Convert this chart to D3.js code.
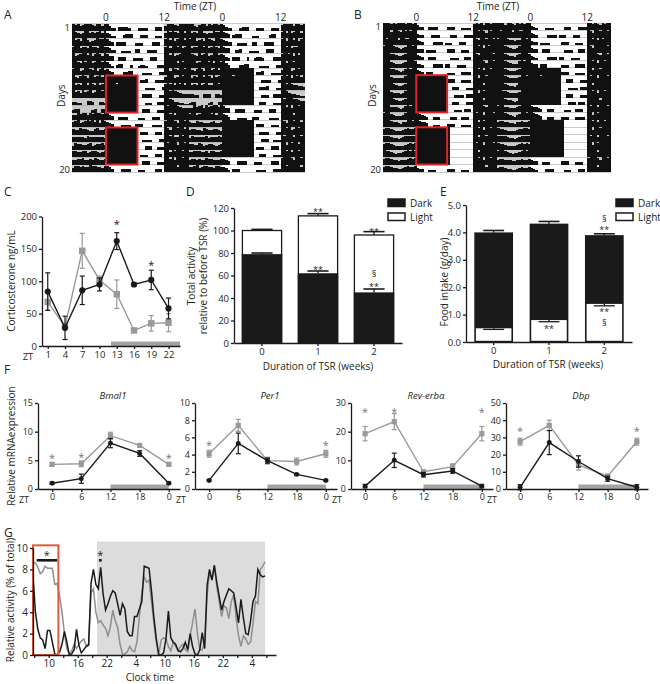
<!DOCTYPE html>
<html>
<head>
<meta charset="utf-8">
<script src="https://cdn.jsdelivr.net/npm/d3@7"></script>
<style>
  body { margin: 0; background: #fff; }
  svg { font-family: "Open Sans", "Noto Sans", sans-serif; }
</style>
</head>
<body>
<svg width="660" height="684"></svg>
<script>
// ---- actograms: one string per day, half-hour bins from ZT17 (prev. day) to ZT17, activity 0-9
// segments: ZT-7..0 | ZT0..6 | ZT6..12 | ZT12..17
const actoA = [
  "97867989769968 864405555300 034440005550 6899769989",
  "98657996878979 753300045550 004440003330 7989869979",
  "97869975679889 865045550000 333000045500 8979689979",
  "89967869876998 764400333300 550004444000 8969979689",
  "96789979689869 866004450003 333000555000 9979678999",
  "98769789679978 753045500040 034430000444 8998969799",
  "89967998796897 864000044550 000333300044 9969879989",
  "97689869978979 999999999999 904450003333 7999679899",
  "96879979869789 999989999999 900033330004 8989698979",
  "97869789679989 999999999999 900444500033 9989876554",
  "44330055400443 999999999999 900033300444 9986443322",
  "34400000340044 999999999999 900444000333 9899987655",
  "66978969789979 865004444000 033300044400 9979699899",
  "78967898979698 764000333300 444000033330 8999869989",
  "76687765578667 999999999999 904440003330 9869989979",
  "67766587667765 999999999999 900333300044 9989679899",
  "58776678567786 999999999999 900044400333 9899969989",
  "77668756776567 999999999999 903330004440 9969899799",
  "66778667587667 999999999999 900444000333 9979699899",
  "57767668776657 764000444400 033300004440 8999869989",
  "66785677665776 653044400000 003333000444 8979989969"
];
const actoB = [
  "99989899989989 644004444000 044400033330 8989699899",
  "99979987989899 543000333300 004440004444 9989869899",
  "98999979988999 654000044440 333000444000 9869989989",
  "89998765679989 544033330000 044400033300 9989698999",
  "99987655689999 654004440000 003333004440 9869999989",
  "99976554679998 543000044440 440003333000 9999869989",
  "99987654589899 654044400000 033300044440 9989699899",
  "99976555689999 999999999999 944400033330 9969989999",
  "99987655679989 999989999999 900444000333 9899699989",
  "99976554689999 999999999999 900033330444 9969899999",
  "99887655679999 999999999999 900444000333 9989699899",
  "99976654589899 999999999999 900033304440 9999869999",
  "89976555689999 876540044400 003330044400 9899699989",
  "99987654679989 987650033300 044400033330 9969899999",
  "78876554678778 999999999999 990000000000 9989699899",
  "87765545677887 999999999999 990000000000 9969989999",
  "78876554567878 999999999999 990000000000 9899699989",
  "87765455678787 999999999999 990000000000 9969899999",
  "78876545567878 999999999999 990000000000 9989699899",
  "67765544567667 544003330000 044400033300 8999869989",
  "56654433456556 543000444400 003330004440 8999689999"
];
const tsrBlocks = [[8, 12], [15, 19]];   // day rows inside red boxes
const tsrWindow = [0, 6.5];             // ZT
const darkSpans = [[-7, 0], [12, 24], [36, 41]];
const actoTicks = [0, 12, 24, 36];
const actoTickLabels = ["0", "12", "0", "12"];

// ---- C: corticosterone
const cortZT = [1, 4, 7, 10, 13, 16, 19, 22];
const cortCtrl = [84, 28, 86, 95, 162, 95, 102, 58];
const cortCtrlErr = [29, 18, 22, 10, 13, 3, 15, 16];
const cortTSR = [68, 30, 147, 102, 80, 24, 35, 36];
const cortTSRErr = [13, 5, 27, 6, 22, 2, 12, 14];
const cortStars = [[13, 192], [19, 128]];

// ---- D: total activity
const weeks = ["0", "1", "2"];
const actDark = [79, 62, 45];
const actDarkErr = [1, 2, 3];
const actTotal = [100, 113, 96];
const actTotalErr = [1, 2, 3];

// ---- E: food intake
const foodLight = [0.5, 0.8, 1.39];
const foodLightErr = [0.04, 0.06, 0.07];
const foodTotal = [4.0, 4.32, 3.9];
const foodTotalErr = [0.07, 0.08, 0.05];

// ---- F: clock genes (ZT 0, 6, 12, 18, 0)
const geneZT = [0, 6, 12, 18, 24];
const geneZTLabels = ["0", "6", "12", "18", "0"];
const genes = [
  { name: "Bmal1", max: 15, ticks: [0, 5, 10, 15],
    ctrl: [1.0, 1.8, 8.0, 6.2, 1.0], ctrlErr: [0.2, 0.8, 0.8, 0.5, 0.2],
    tsr: [4.3, 4.4, 9.3, 7.6, 4.3], tsrErr: [0.3, 0.5, 0.6, 0.3, 0.3],
    stars: [[0, 5.8], [6, 5.9], [24, 5.8]] },
  { name: "Per1", max: 10, ticks: [0, 2, 4, 6, 8, 10],
    ctrl: [1.0, 5.3, 3.3, 1.7, 1.0], ctrlErr: [0.1, 1.2, 0.3, 0.1, 0.1],
    tsr: [4.1, 7.4, 3.3, 3.2, 4.1], tsrErr: [0.4, 0.7, 0.4, 0.4, 0.4],
    stars: [[0, 5.4], [24, 5.4]] },
  { name: "Rev-erbα", max: 30, ticks: [0, 10, 20, 30],
    ctrl: [1.0, 10.0, 5.0, 6.3, 1.0], ctrlErr: [0.6, 2.5, 0.8, 0.8, 0.6],
    tsr: [19.3, 23.5, 6.0, 7.8, 19.3], tsrErr: [2.5, 2.8, 0.5, 1.0, 2.5],
    stars: [[0, 27.5], [6, 27.5], [24, 27.5]] },
  { name: "Dbp", max: 50, ticks: [0, 10, 20, 30, 40, 50],
    ctrl: [1.0, 27.0, 16.0, 6.0, 1.0], ctrlErr: [1.5, 7.0, 3.3, 1.5, 1.5],
    tsr: [27.5, 37.0, 14.0, 7.5, 27.5], tsrErr: [2.0, 3.0, 3.0, 1.0, 2.0],
    stars: [[0, 35], [24, 35]] }
];

// ---- G: relative activity, half-hour points from 6:45 clock time
const gStart = 6.75;
const actCtrl = [7.4, 4.0, 2.4, 1.6, 1.4, 0.6, 2.3, 2.3, 1.2, 0.1, 0, 0.3, 1.0, 2.2, 1.2, 0, 0.1, 0.5, 2.4, 0.9,
  0.2, 0.5, 0.8, 0.9, 6.7, 8.0, 6.6, 6.2, 8.2, 5.7, 4.2, 4.8, 5.5, 6.0, 5.8, 4.8, 3.7, 4.8, 4.3, 2.2,
  1.8, 1.8, 3.6, 3.6, 4.3, 5.0, 8.3, 8.2, 8.1, 6.0, 3.5, 1.5, 0, 0, 0.2, 1.5, 4.1, 1.6, 1.2, 1.0,
  0.4, 0.3, 0.6, 1.2, 0.5, 2.0, 0.8, 0.1, 0, 0.5, 2.1, 0.6, 6.5, 8.0, 7.0, 8.4, 6.8, 5.5, 4.2, 5.0,
  5.6, 6.2, 6.0, 5.8, 4.5, 3.0, 5.2, 3.5, 2.0, 1.9, 3.2, 5.0, 5.5, 8.0, 7.5, 7.3, 7.4];
const actTSR = [8.7, 8.6, 8.2, 7.6, 7.8, 8.3, 8.1, 8.1, 8.1, 6.6, 6.7, 5.5, 4.0, 2.0, 0.6, 0.1, 0.4, 1.0, 0.6, 1.0,
  1.3, 1.5, 0.9, 1.0, 5.8, 6.2, 4.0, 3.0, 3.2, 2.8, 2.5, 1.8, 2.6, 4.2, 3.2, 2.6, 1.0, 0.1, 0.1, 0.3,
  0.8, 0.4, 0.3, 1.2, 3.6, 5.8, 7.3, 6.8, 7.0, 5.0, 3.0, 1.2, 0.1, 1.4, 1.6, 1.5, 0.8, 0.4, 1.2, 0.8,
  0.4, 0.8, 1.0, 0.5, 0.3, 1.8, 3.0, 4.3, 2.0, 0.5, 0.5, 1.2, 5.5, 7.8, 7.0, 8.3, 6.4, 5.0, 3.6, 4.6,
  4.4, 3.4, 5.0, 5.6, 3.5, 1.8, 0.8, 1.8, 1.5, 1.0, 1.2, 3.0, 5.0, 4.8, 8.0, 8.3, 8.7];
const gShade = [20, 54.75];
const gBox = [6.75, 12, 10.25];
const gSigBars = [[7.5, 11.75, 8.85], [20.4, 20.95, 8.85]];

const svg = d3.select("svg");
const INK = "#231f20", BLK = "#1a1a1a", GRY = "#999999";

function text(x, y, s, size, anchor, g) {
  return (g || svg).append("text").attr("x", x).attr("y", y)
    .attr("font-size", size || 10).attr("text-anchor", anchor || "middle")
    .attr("fill", INK).text(s);
}
function vtext(x, y, s, size) {
  return svg.append("text").attr("transform", `translate(${x},${y}) rotate(-90)`)
    .attr("font-size", size || 10).attr("text-anchor", "middle").attr("fill", INK).text(s);
}
function styleAxis(g, size) {
  g.attr("font-family", null).attr("font-size", size || 9.5);
  g.selectAll("path,line").attr("stroke", BLK).attr("stroke-width", 1.3);
  g.selectAll("text").attr("fill", INK);
}

// ================= A / B actograms
function actogram(days, left, right, top, bottom, letter, letterX, titleX) {
  const x = d3.scaleLinear().domain([-7, 41]).range([left, right]);
  const row = d3.scaleBand().domain(d3.range(20)).range([top, bottom]);
  const h = row.bandwidth();
  const bins = days.map(s => s.replace(/ /g, "").padEnd(48, "0").slice(0, 48).split("").map(Number));
  const g = svg.append("g").attr("shape-rendering", "crispEdges");

  d3.range(20).forEach(r => {
    darkSpans.forEach(s => g.append("rect")
      .attr("x", x(s[0])).attr("width", x(s[1]) - x(s[0]))
      .attr("y", row(r)).attr("height", h).attr("fill", "#c9c9c9"));
  });
  d3.range(21).forEach(r => g.append("line")
    .attr("x1", left).attr("x2", right)
    .attr("y1", top + r * h).attr("y2", top + r * h)
    .attr("stroke", "#a8a8a8").attr("stroke-width", 0.6));

  d3.range(20).forEach(r => {
    const vals = bins[r].concat(bins[r + 1]);
    vals.forEach((v, i) => {
      if (!v) return;
      const z = -7 + i * 0.5;
      g.append("rect")
        .attr("x", x(z)).attr("width", x(z + 0.5) - x(z) + 0.3)
        .attr("y", row(r) + h - v / 9 * h).attr("height", v / 9 * h)
        .attr("fill", "#111");
    });
  });

  tsrBlocks.forEach(b => svg.append("rect")
    .attr("x", x(tsrWindow[0])).attr("width", x(tsrWindow[1]) - x(tsrWindow[0]))
    .attr("y", row(b[0] - 1)).attr("height", row(b[1] - 1) + h - row(b[0] - 1))
    .attr("fill", "none").attr("stroke", "#e1242a").attr("stroke-width", 2));

  actoTicks.forEach((t, i) => text(x(t), 21, actoTickLabels[i], 10));
  text(titleX, 10, "Time (ZT)", 10);
  text(left - 2, top + 7, "1", 9.5, "end");
  text(left - 2, bottom + 1, "20", 9.5, "end");
  vtext(left - 7, (top + bottom) / 2 - 2, "Days", 10);
  text(letterX, 19, letter, 12, "start");
}
actogram(actoA, 72, 305, 23.5, 172, "A", 4, 195);
actogram(actoB, 383, 611, 23, 172, "B", 354, 498);

// ================= C and F line panels
function linePanel(p) {
  const x = d3.scaleLinear().domain(p.xDom).range([p.x0, p.x1]);
  const y = d3.scaleLinear().domain([0, p.yMax]).range([p.yb, p.yt]);
  const g = svg.append("g");
  g.append("rect").attr("x", x(12)).attr("width", x(24) - x(12))
    .attr("y", p.yb - 4.5).attr("height", 4.5).attr("fill", "#a3a3a3");
  const ya = g.append("g").attr("transform", `translate(${p.x0},0)`)
    .call(d3.axisLeft(y).tickValues(p.yTicks).tickSize(3).tickSizeOuter(0).tickPadding(2));
  styleAxis(ya, p.fs);
  const xa = g.append("g").attr("transform", `translate(0,${p.yb})`)
    .call(d3.axisBottom(x).tickValues(p.xTicks).tickFormat((d, i) => p.xLabels[i])
      .tickSize(3).tickSizeOuter(0).tickPadding(2));
  styleAxis(xa, p.fs);
  text(p.x0 - 14, p.yb + 14, "ZT", p.fs);

  const series = (vals, errs, color, square) => {
    const pts = p.xTicks.map((t, i) => [x(t), y(vals[i])]);
    g.append("path").attr("d", d3.line()(pts)).attr("fill", "none")
      .attr("stroke", color).attr("stroke-width", 1.4);
    p.xTicks.forEach((t, i) => {
      const cx = x(t), lo = y(vals[i] - errs[i]), hi = y(vals[i] + errs[i]);
      g.append("line").attr("x1", cx).attr("x2", cx).attr("y1", lo).attr("y2", hi)
        .attr("stroke", color).attr("stroke-width", 1.2);
      [lo, hi].forEach(yy => g.append("line").attr("x1", cx - 2.5).attr("x2", cx + 2.5)
        .attr("y1", yy).attr("y2", yy).attr("stroke", color).attr("stroke-width", 1.2));
      if (square) g.append("rect").attr("x", cx - p.ms / 2).attr("y", y(vals[i]) - p.ms / 2)
        .attr("width", p.ms).attr("height", p.ms).attr("fill", color);
      else g.append("circle").attr("cx", cx).attr("cy", y(vals[i])).attr("r", p.ms / 2.1).attr("fill", color);
    });
  };
  series(p.gray, p.grayErr, GRY, true);
  series(p.black, p.blackErr, BLK, false);
  p.stars.forEach(s => text(x(s[0]), y(s[1]) + 6, "*", 11, "middle", g).attr("fill", p.starColor || INK));
  if (p.title) text((p.x0 + p.x1) / 2 + 4, p.yt - 4, p.title, 9.5).attr("font-style", "italic");
}

linePanel({ x0: 42, x1: 180, xDom: [0, 24], yb: 346, yt: 216.5, yMax: 200,
  yTicks: [0, 50, 100, 150, 200], xTicks: cortZT, xLabels: cortZT.map(String),
  black: cortCtrl, blackErr: cortCtrlErr, gray: cortTSR, grayErr: cortTSRErr,
  stars: cortStars, ms: 6.5, fs: 9.5 });
text(4, 196, "C", 12, "start");
vtext(15, 281, "Corticosterone ng/mL", 10);

const fAxisX = [38, 195, 351, 506];
genes.forEach((gn, k) => linePanel({ x0: fAxisX[k], x1: fAxisX[k] + 142, xDom: [-2.9, 26.3],
  yb: 489, yt: 403, yMax: gn.max, yTicks: gn.ticks, xTicks: geneZT, xLabels: geneZTLabels,
  black: gn.ctrl, blackErr: gn.ctrlErr, gray: gn.tsr, grayErr: gn.tsrErr,
  stars: gn.stars, starColor: "#777", ms: 5.2, fs: 9, title: gn.name }));
text(4, 374, "F", 12, "start");
vtext(15, 446, "Relative mRNAexpression", 10);

// ================= D stacked activity
(function () {
  const x = d3.scaleBand().domain(weeks).range([234, 402]).paddingInner(0.3).paddingOuter(0.15);
  const y = d3.scaleLinear().domain([0, 120]).range([343, 208]);
  const g = svg.append("g");
  const bw = x.bandwidth();
  weeks.forEach((w, i) => {
    g.append("rect").attr("x", x(w)).attr("width", bw).attr("y", y(actTotal[i]))
      .attr("height", y(0) - y(actTotal[i])).attr("fill", "#fff").attr("stroke", BLK).attr("stroke-width", 1.3);
    g.append("rect").attr("x", x(w) - 0.65).attr("width", bw + 1.3).attr("y", y(actDark[i]))
      .attr("height", y(0) - y(actDark[i])).attr("fill", BLK);
    [[actTotal[i], actTotalErr[i]], [actDark[i], actDarkErr[i]]].forEach(([v, e]) => {
      const cx = x(w) + bw / 2;
      g.append("line").attr("x1", cx).attr("x2", cx).attr("y1", y(v)).attr("y2", y(v + e))
        .attr("stroke", BLK).attr("stroke-width", 1.3);
      g.append("line").attr("x1", cx - bw * 0.27).attr("x2", cx + bw * 0.27)
        .attr("y1", y(v + e)).attr("y2", y(v + e)).attr("stroke", BLK).attr("stroke-width", 1.6);
    });
  });
  const ya = g.append("g").attr("transform", "translate(234,0)")
    .call(d3.axisLeft(y).tickValues([0, 20, 40, 60, 80, 100, 120]).tickSize(3).tickSizeOuter(0).tickPadding(2));
  styleAxis(ya, 9.5);
  const xa = g.append("g").attr("transform", "translate(0,343)")
    .call(d3.axisBottom(x).tickSize(3).tickSizeOuter(0).tickPadding(2));
  styleAxis(xa, 9.5);
  const cx = w => x(w) + bw / 2;
  text(cx("1"), y(117) + 4, "**", 9);
  text(cx("1"), y(66) + 4, "**", 9);
  text(cx("2"), y(100) + 4, "**", 9);
  text(cx("2"), y(61) + 3, "§", 9);
  text(cx("2"), y(51) + 4, "**", 9);
  text(318, 370, "Duration of TSR (weeks)", 10);
  text(186, 196, "D", 12, "start");
  vtext(195, 276, "Total activity", 10);
  vtext(207, 276, "relative to before TSR (%)", 10);
  // legend
  [["Dark", BLK, 199], ["Light", "#fff", 213]].forEach(([t, f, yy]) => {
    svg.append("rect").attr("x", 388).attr("y", yy).attr("width", 17).attr("height", 7.5)
      .attr("fill", f).attr("stroke", BLK).attr("stroke-width", 1.5);
    text(410, yy + 7.5, t, 10, "start");
  });
})();

// ================= E food intake
(function () {
  const x = d3.scaleBand().domain(weeks).range([466, 632]).paddingInner(0.3).paddingOuter(0.15);
  const y = d3.scaleLinear().domain([0, 5]).range([342, 205]);
  const g = svg.append("g");
  const bw = x.bandwidth();
  weeks.forEach((w, i) => {
    const cx = x(w) + bw / 2;
    g.append("rect").attr("x", x(w)).attr("width", bw).attr("y", y(foodTotal[i]))
      .attr("height", y(0) - y(foodTotal[i])).attr("fill", BLK);
    g.append("rect").attr("x", x(w) + 1.6).attr("width", bw - 3.2).attr("y", y(foodLight[i]))
      .attr("height", y(0) - y(foodLight[i]) - 1.2).attr("fill", "#fff");
    g.append("line").attr("x1", cx).attr("x2", cx).attr("y1", y(foodTotal[i]))
      .attr("y2", y(foodTotal[i] + foodTotalErr[i])).attr("stroke", BLK).attr("stroke-width", 1.3);
    g.append("line").attr("x1", cx - bw * 0.27).attr("x2", cx + bw * 0.27)
      .attr("y1", y(foodTotal[i] + foodTotalErr[i])).attr("y2", y(foodTotal[i] + foodTotalErr[i]))
      .attr("stroke", BLK).attr("stroke-width", 1.6);
    g.append("line").attr("x1", cx).attr("x2", cx).attr("y1", y(foodLight[i]))
      .attr("y2", y(foodLight[i] - foodLightErr[i])).attr("stroke", BLK).attr("stroke-width", 1.3);
    g.append("line").attr("x1", cx - bw * 0.27).attr("x2", cx + bw * 0.27)
      .attr("y1", y(foodLight[i] - foodLightErr[i])).attr("y2", y(foodLight[i] - foodLightErr[i]))
      .attr("stroke", BLK).attr("stroke-width", 1.3);
  });
  const ya = g.append("g").attr("transform", "translate(466,0)")
    .call(d3.axisLeft(y).tickValues([0, 1, 2, 3, 4, 5]).tickSize(3).tickSizeOuter(0).tickPadding(2));
  styleAxis(ya, 9.5);
  const xa = g.append("g").attr("transform", "translate(0,342)")
    .call(d3.axisBottom(x).tickSize(3).tickSizeOuter(0).tickPadding(2));
  styleAxis(xa, 9.5);
  const cx = w => x(w) + bw / 2;
  text(cx("1"), y(0.5) + 4, "**", 9);
  text(cx("2"), y(1.14) + 4, "**", 9);
  text(cx("2"), y(0.7) + 3, "§", 8.5);
  text(cx("2"), y(4.12) + 4, "**", 9);
  text(cx("2"), y(4.5) + 3, "§", 8.5);
  text(548, 368, "Duration of TSR (weeks)", 10);
  text(440, 196, "E", 12, "start");
  vtext(448, 282, "Food intake (g/day)", 10);
  [["Dark", BLK, 199], ["Light", "#fff", 213]].forEach(([t, f, yy]) => {
    svg.append("rect").attr("x", 616).attr("y", yy).attr("width", 17).attr("height", 7.5)
      .attr("fill", f).attr("stroke", BLK).attr("stroke-width", 1.5);
    text(638, yy + 7.5, t, 10, "start");
  });
})();

// ================= G relative activity
(function () {
  const x = d3.scaleLinear().domain([6.75, 57]).range([33, 276]);
  const y = d3.scaleLinear().domain([0, 10]).range([655, 548]);
  const g = svg.append("g");
  g.append("rect").attr("x", x(gShade[0])).attr("width", x(gShade[1]) - x(gShade[0]))
    .attr("y", y(10.6)).attr("height", y(0) - y(10.6)).attr("fill", "#dcdcdc");
  const line = d3.line().x((d, i) => x(gStart + i * 0.5)).y(d => y(d));
  g.append("path").attr("d", line(actTSR)).attr("fill", "none").attr("stroke", "#8e8e8e").attr("stroke-width", 1.5);
  g.append("path").attr("d", line(actCtrl)).attr("fill", "none").attr("stroke", BLK).attr("stroke-width", 1.5);
  g.append("rect").attr("x", x(gBox[0])).attr("width", x(gBox[1]) - x(gBox[0]))
    .attr("y", y(gBox[2])).attr("height", y(0) - y(gBox[2]))
    .attr("fill", "none").attr("stroke", "#e05a3c").attr("stroke-width", 2);
  gSigBars.forEach(b => {
    g.append("line").attr("x1", x(b[0])).attr("x2", x(b[1])).attr("y1", y(b[2])).attr("y2", y(b[2]))
      .attr("stroke", BLK).attr("stroke-width", 2.6);
    text((x(b[0]) + x(b[1])) / 2, y(b[2]) - 1, "*", 11, "middle", g);
  });
  const ya = g.append("g").attr("transform", "translate(33,0)")
    .call(d3.axisLeft(y).tickValues([0, 2, 4, 6, 8, 10]).tickSize(3).tickSizeOuter(0).tickPadding(2));
  styleAxis(ya, 10);
  const xa = g.append("g").attr("transform", "translate(0,655)")
    .call(d3.axisBottom(x).tickValues(d3.range(7, 56, 3))
      .tickFormat(d => (d - 10) % 6 === 0 ? String(d % 24) : "")
      .tickSize(3).tickSizeOuter(0).tickPadding(2));
  styleAxis(xa, 10);
  text(150, 681, "Clock time", 10);
  text(4, 537, "G", 12, "start");
  vtext(14, 600, "Relative activity (% of total)", 10);
})();
</script>
</body>
</html>
